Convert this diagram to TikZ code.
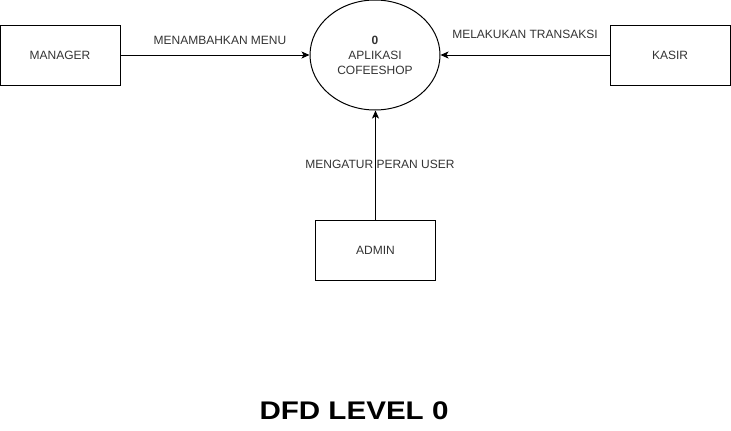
\documentclass[tikz,border=0pt]{standalone}
\usepackage{fontspec}
\setmainfont{Liberation Sans}
\usetikzlibrary{shapes.geometric,arrows.meta}
\begin{document}
\begin{tikzpicture}[x=1pt,y=-1pt,
  entity/.style={draw,line width=1pt,minimum width=120pt,minimum height=60pt,inner sep=0pt,font=\fontsize{12}{14}\selectfont,text=black!80},
  proc/.style={draw,ellipse,line width=1pt,minimum width=130pt,minimum height=110pt,inner sep=0pt,align=center,font=\fontsize{12}{15}\selectfont,text=black!80},
  flow/.style={line width=1pt,-{Stealth[length=8pt,width=7pt,inset=2pt]}},
  lbl/.style={font=\fontsize{12}{14}\selectfont,text=black!80,inner sep=0pt},
  ttl/.style={font=\fontsize{25.5}{30}\selectfont\bfseries,inner sep=0pt,xscale=1.16,transform shape}]
\useasboundingbox (0,0) rectangle (731,431);
\node[entity] (mgr) at (60,55) {MANAGER};
\node[entity] (ksr) at (670,55) {KASIR};
\node[entity] (adm) at (375.5,250) {ADMIN};
\node[proc] (app) at (375,55) {\textbf{0}\\APLIKASI\\COFEESHOP};
\draw[flow] (mgr.east) -- (app.west);
\draw[flow] (ksr.west) -- (app.east);
\draw[flow] (adm.north) -- (adm.north |- app.south);
\node[lbl] (l1) at (220,40) {MENAMBAHKAN MENU};
\node[lbl] (l2) at (525,34) {MELAKUKAN TRANSAKSI};
\node[lbl] (l3) at (380,164) {MENGATUR PERAN USER};
\node[ttl] (title) at (354,411) {DFD LEVEL 0};
\end{tikzpicture}
\end{document}
